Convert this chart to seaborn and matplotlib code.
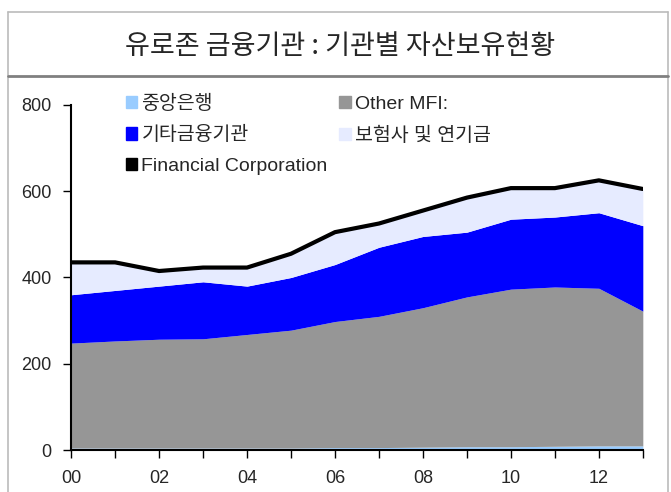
import numpy as np
import pandas as pd
import matplotlib.pyplot as plt
import seaborn as sns
from matplotlib.patches import Patch
from matplotlib.lines import Line2D

# 데이터 (연도별 보유자산)
years = list(range(0, 14))
year_labels = ['00', '02', '04', '06', '08', '10', '12']
central_bank = [5, 5, 5, 5, 5, 5, 6, 6, 7, 8, 8, 9, 10, 10]
other_mfi = [243, 248, 252, 253, 263, 273, 292, 304, 323, 347, 365, 369, 365, 312]
other_fin = [112, 117, 123, 132, 112, 122, 132, 160, 165, 150, 162, 162, 175, 198]
insurance = [75, 65, 35, 33, 43, 55, 75, 55, 60, 80, 72, 67, 75, 85]

names = ['중앙은행', 'Other MFI:', '기타금융기관', '보험사 및 연기금']
colors = ['#99CCFF', '#969696', '#0000FF', '#E6EBFF']

df = pd.DataFrame({'year': years, names[0]: central_bank, names[1]: other_mfi,
                   names[2]: other_fin, names[3]: insurance})
df['Financial Corporation'] = df[names].sum(axis=1)

sns.set_theme(style='white')
plt.rcParams['font.family'] = ['Liberation Sans', 'Noto Sans CJK KR', 'DejaVu Sans']

fig = plt.figure(figsize=(6.71, 4.92), dpi=100)
ax = fig.add_axes([0.106, 0.085, 0.852, 0.702])

# 누적 영역
bottom = np.zeros(len(df))
for name, c in zip(names, colors):
    top = bottom + df[name].values
    ax.fill_between(df['year'], bottom, top, color=c, linewidth=0)
    bottom = top

sns.lineplot(data=df, x='year', y='Financial Corporation', color='black', linewidth=3, ax=ax)

ax.set_xlim(0, 13)
ax.set_ylim(0, 800)
ax.set_yticks([0, 200, 400, 600, 800])
ax.set_xticks(years, minor=True)
ax.set_xticks(range(0, 13, 2))
ax.set_xticklabels(year_labels)
ax.set_xlabel('')
ax.set_ylabel('')
for s in ['top', 'right']:
    ax.spines[s].set_visible(False)
for s in ['left', 'bottom']:
    ax.spines[s].set_color('black')
    ax.spines[s].set_linewidth(1.5)
ax.tick_params(axis='both', which='both', direction='out', length=6, width=1, color='black',
               bottom=True, left=True, labelsize=12, pad=8)
for lab in ax.get_xticklabels() + ax.get_yticklabels():
    lab.set_family(['Liberation Sans Narrow', 'Liberation Sans'])
    lab.set_fontsize(13)

# 범례
handles = [Patch(color=colors[0]), Patch(color=colors[2]), Patch(color='black'),
           Patch(color=colors[1]), Patch(color=colors[3])]
labels = [names[0], names[2], 'Financial Corporation', names[1], names[3]]
leg = ax.legend(handles, labels, ncol=2, frameon=False, loc='upper left',
                bbox_to_anchor=(0.065, 1.08), fontsize=14, handlelength=0.6,
                handleheight=0.6, handletextpad=0.2, columnspacing=0.6, labelspacing=0.7)

# 제목 박스
fig.add_artist(Line2D([0.012, 0.012], [0, 0.975], color='#BBBBBB', lw=1.2, transform=fig.transFigure))
fig.add_artist(Line2D([0.995, 0.995], [0, 0.975], color='#BBBBBB', lw=1.2, transform=fig.transFigure))
fig.add_artist(Line2D([0.012, 0.995], [0.975, 0.975], color='#BBBBBB', lw=1.2, transform=fig.transFigure))
fig.add_artist(Line2D([0.012, 0.995], [0.845, 0.845], color='#808080', lw=2, transform=fig.transFigure))
fig.text(0.507, 0.905, '유로존 금융기관 : 기관별 자산보유현황', ha='center', va='center',
         fontsize=19.5, family=['Noto Sans CJK KR', 'DejaVu Sans'])

plt.savefig('out.png', dpi=100)
